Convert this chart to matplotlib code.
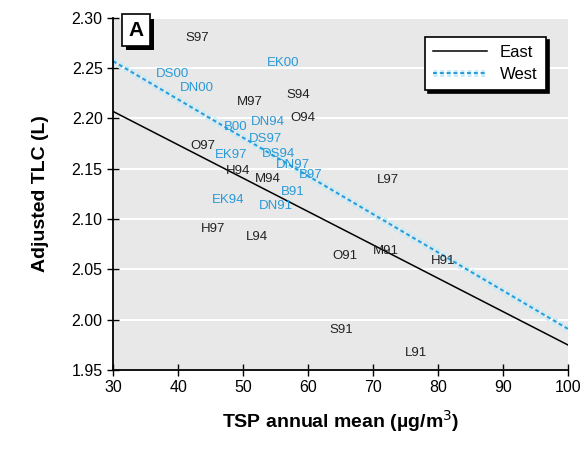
import matplotlib
matplotlib.use("Agg")
import matplotlib.pyplot as plt
import matplotlib.patheffects as pe
import numpy as np

plt.rcParams['font.family'] = ['Liberation Sans Narrow', 'Liberation Sans', 'DejaVu Sans']

# regression lines (TSP -> adjusted TLC)
line_x = [30, 100]
east_y = [2.207, 1.975]
west_y = [2.257, 1.991]

# site/year labels for East (black)
east_labels = ['S97', 'M97', 'S94', 'O94', 'O97', 'H94', 'M94', 'L97',
               'H97', 'L94', 'O91', 'M91', 'H91', 'S91', 'L91']
east_x = [42.9, 51.1, 58.5, 59.2, 43.8, 49.2, 53.8, 72.3,
          45.4, 52.2, 65.7, 72.0, 80.8, 65.2, 76.6]
east_tlc = [2.280, 2.216, 2.223, 2.200, 2.173, 2.148, 2.140, 2.139,
            2.090, 2.082, 2.063, 2.068, 2.058, 1.990, 1.967]

# site/year labels for West (blue)
west_labels = ['EK00', 'DS00', 'DN00', 'B00', 'DN94', 'DS97', 'EK97', 'DS94',
               'DN97', 'B97', 'B91', 'EK94', 'DN91']
west_x = [56.2, 39.1, 42.9, 48.9, 53.8, 53.4, 48.2, 55.5,
          57.6, 60.4, 57.7, 47.7, 55.1]
west_tlc = [2.255, 2.244, 2.230, 2.192, 2.197, 2.180, 2.164, 2.165,
            2.154, 2.144, 2.127, 2.119, 2.113]

blue = '#2a9ad6'

fig = plt.figure(figsize=(5.83, 4.58), dpi=100)
ax = fig.add_axes([0.194, 0.192, 0.78, 0.769])
ax.set_facecolor('#e8e8e8')

ax.set_xlim(30, 100)
ax.set_ylim(1.95, 2.30)
ax.set_xticks(np.arange(30, 101, 10))
ax.set_yticks(np.arange(1.95, 2.301, 0.05))
ax.set_yticklabels(['%.2f' % v for v in np.arange(1.95, 2.301, 0.05)])
ax.yaxis.grid(True, color='white', linewidth=1.5)
ax.set_axisbelow(True)

for s in ['top', 'right']:
    ax.spines[s].set_visible(False)
for s in ['left', 'bottom']:
    ax.spines[s].set_linewidth(1.3)

ax.tick_params(direction='inout', length=8, width=1, labelsize=11.5)

ax.plot(line_x, east_y, color='black', linewidth=1.1, label='East')
ax.plot(line_x, west_y, color=blue, linewidth=1.4, linestyle=(0, (2, 1.5)),
        label='West',
        path_effects=[pe.Stroke(linewidth=5, foreground='#c4ecf8'), pe.Normal()])

for t, x, y in zip(east_labels, east_x, east_tlc):
    ax.text(x, y, t, color='#222222', fontsize=9.5, ha='center', va='center')
for t, x, y in zip(west_labels, west_x, west_tlc):
    ax.text(x, y, t, color=blue, fontsize=9.5, ha='center', va='center')

ax.set_xlabel('TSP annual mean (\u00b5g/m$^3$)', fontsize=14, fontweight='bold',
              labelpad=9)
ax.set_ylabel('Adjusted TLC (L)', fontsize=14, fontweight='bold', labelpad=16)

ax.text(0.05, 0.965, 'A', transform=ax.transAxes, fontsize=15, fontweight='bold',
        ha='center', va='center',
        bbox=dict(boxstyle='square,pad=0.3', facecolor='white', edgecolor='black',
                  linewidth=1.2,
                  path_effects=[pe.SimplePatchShadow(offset=(3, -3), shadow_rgbFace='black', alpha=1),
                                pe.Normal()]))

leg = ax.legend(loc='upper right', bbox_to_anchor=(0.97, 0.97), fontsize=12,
                frameon=True, fancybox=False, shadow={'color': 'black', 'alpha': 1},
                edgecolor='black', handlelength=3.2, borderpad=0.5,
                labelspacing=0.4)
leg.get_frame().set_linewidth(1.2)

fig.savefig('out.png', dpi=100)
